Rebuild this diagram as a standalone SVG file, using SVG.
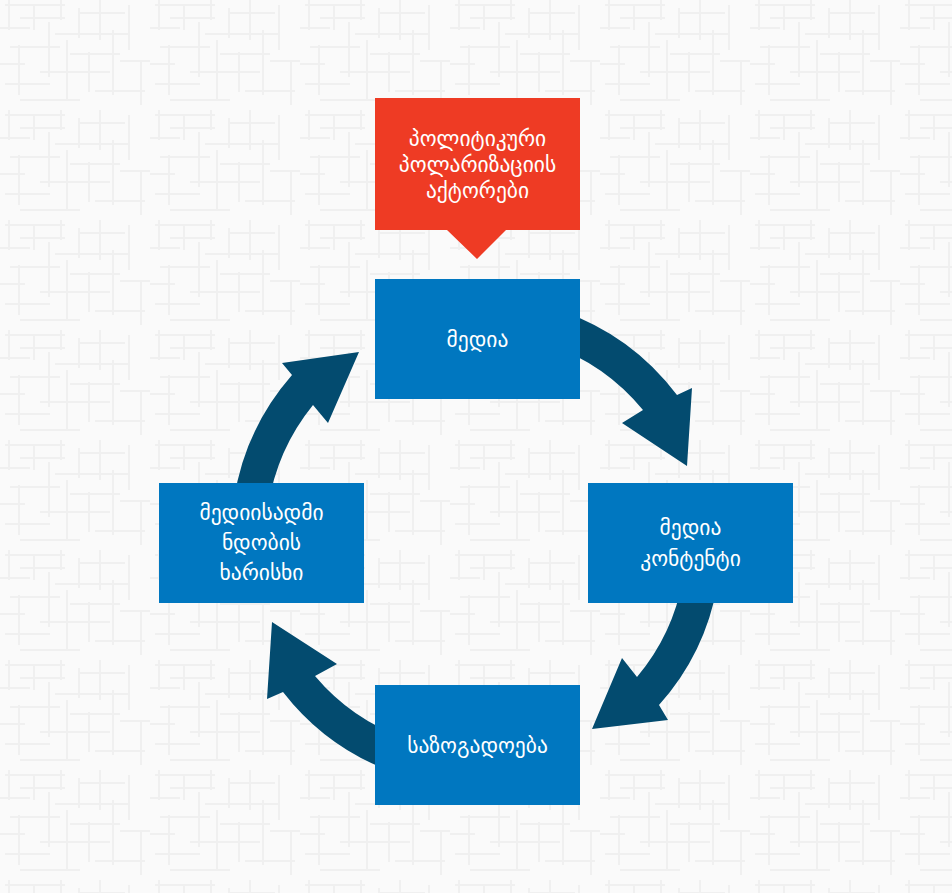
<svg xmlns="http://www.w3.org/2000/svg" width="952" height="893" viewBox="0 0 952 893">
<style>
.box{fill:#0077c0}
.arrow{fill:#034b6f}
.lbl{font-family:"DejaVu Sans","Noto Sans",sans-serif;font-size:21.5px;fill:#ffffff;text-anchor:middle;dominant-baseline:central}
</style>
<defs>
<pattern id="bg" width="150" height="110" patternUnits="userSpaceOnUse">
<rect width="150" height="110" fill="#fafafa"/>
<g fill="#f0f0f0">
<rect x="5" y="4" width="60" height="2"/>
<rect x="20" y="17" width="45" height="2"/>
<rect x="0" y="27" width="30" height="2"/>
<rect x="55" y="33" width="75" height="2"/>
<rect x="10" y="46" width="50" height="2"/>
<rect x="70" y="53" width="50" height="2"/>
<rect x="0" y="63" width="25" height="2"/>
<rect x="40" y="71" width="70" height="2"/>
<rect x="5" y="83" width="45" height="2"/>
<rect x="80" y="12" width="45" height="2"/>
<rect x="95" y="90" width="50" height="2"/>
<rect x="20" y="99" width="60" height="2"/>
<rect x="120" y="60" width="30" height="2"/>
<rect x="8" y="0" width="2" height="30"/>
<rect x="18" y="45" width="2" height="50"/>
<rect x="33" y="5" width="2" height="25"/>
<rect x="48" y="22" width="2" height="55"/>
<rect x="60" y="0" width="2" height="20"/>
<rect x="66" y="40" width="2" height="60"/>
<rect x="78" y="8" width="2" height="30"/>
<rect x="88" y="52" width="2" height="40"/>
<rect x="99" y="0" width="2" height="40"/>
<rect x="112" y="30" width="2" height="65"/>
<rect x="128" y="5" width="2" height="45"/>
<rect x="140" y="60" width="2" height="45"/>
</g>
</pattern>
</defs>
<rect width="952" height="893" fill="url(#bg)"/>
<g id="connectors">
<path class="arrow" d="M561.5,310.9 A245,245 0 0 1 677,395 L692,388 L687,466 L622,423 L643,410 A210,210 0 0 0 549.2,344.7 Z"/>
<path class="arrow" d="M717.3,585.4 A244,244 0 0 1 659,705 L668,720 L592,729 L622,658 L637,677 A209,209 0 0 0 682.8,579.3 Z"/>
<path class="arrow" d="M393.6,772.3 A244,244 0 0 1 283,692 L267,699 L272,622 L337,664 L315,676 A208,208 0 0 0 405.9,738.5 Z"/>
<path class="arrow" d="M233.8,500.1 A247,247 0 0 1 292,375 L282,363 L359,352 L328,423 L313,405 A212,212 0 0 0 268.2,506.2 Z"/>
</g>
<g id="actors">
<path d="M375,98 H580 V230 H506 L477,259 L447,230 H375 Z" fill="#ee3b24"/>
<text class="lbl" x="477.5" y="138">პოლიტიკური</text>
<text class="lbl" x="477.5" y="164">პოლარიზაციის</text>
<text class="lbl" x="477.5" y="190">აქტორები</text>
</g>
<g id="media">
<rect class="box" x="375" y="279" width="205" height="120"/>
<text class="lbl" x="477.5" y="339">მედია</text>
</g>
<g id="content">
<rect class="box" x="588" y="483" width="205" height="120"/>
<text class="lbl" x="690.5" y="527">მედია</text>
<text class="lbl" x="690.5" y="558">კონტენტი</text>
</g>
<g id="society">
<rect class="box" x="375" y="685" width="205" height="120"/>
<text class="lbl" x="477.5" y="745">საზოგადოება</text>
</g>
<g id="trust">
<rect class="box" x="159" y="483" width="205" height="120"/>
<text class="lbl" x="261.5" y="512">მედიისადმი</text>
<text class="lbl" x="261.5" y="542">ნდობის</text>
<text class="lbl" x="261.5" y="572">ხარისხი</text>
</g>
</svg>
